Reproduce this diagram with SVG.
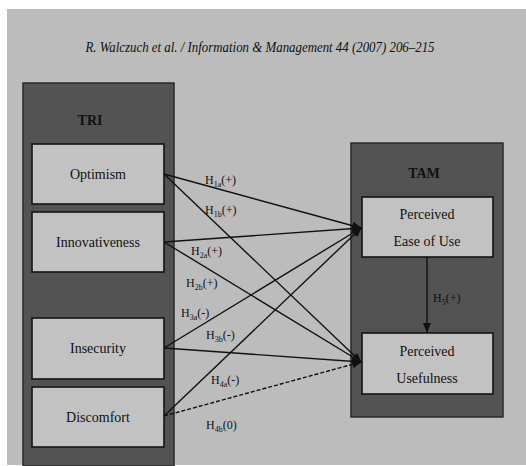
<svg xmlns="http://www.w3.org/2000/svg" width="526" height="466" viewBox="0 0 526 466">
<style>
text{font-family:"Liberation Serif","Times New Roman",Times,"DejaVu Serif",serif;fill:#111}
.panel{fill:#535353;stroke:#2a2a2a;stroke-width:1.5}
.box{fill:#c2c2c2;stroke:#141414;stroke-width:1.6}
.lbl{font-size:14px;text-anchor:middle}
.hd{font-size:14px;font-weight:bold;text-anchor:middle}
.h{font-size:12px}
.sub{font-size:8px}
.ln{stroke:#111;stroke-width:1.4;fill:none}
</style>
<defs>
<marker id="ah" markerWidth="10" markerHeight="8" refX="9" refY="4" orient="auto" markerUnits="userSpaceOnUse">
<path d="M0,0 L10,4 L0,8 z" fill="#111"/>
</marker>
</defs>
<rect x="0" y="0" width="526" height="466" fill="#ffffff"/>
<rect x="7" y="9" width="519" height="456" fill="#bcbcbc"/>
<text x="260" y="52" font-style="italic" font-size="15" text-anchor="middle" textLength="349" lengthAdjust="spacingAndGlyphs">R. Walczuch et al. / Information &amp; Management 44 (2007) 206–215</text>
<g id="TRI">
<rect class="panel" x="23" y="83" width="151" height="383"/>
<text class="hd" x="90" y="125">TRI</text>
</g>
<g id="optimism"><rect class="box" x="32" y="144" width="132" height="60"/><text class="lbl" x="98" y="179">Optimism</text></g>
<g id="innovativeness"><rect class="box" x="32" y="212" width="132" height="60"/><text class="lbl" x="98" y="247">Innovativeness</text></g>
<g id="insecurity"><rect class="box" x="32" y="318" width="132" height="61"/><text class="lbl" x="98" y="353">Insecurity</text></g>
<g id="discomfort"><rect class="box" x="32" y="387" width="132" height="60"/><text class="lbl" x="98" y="422">Discomfort</text></g>
<g id="TAM">
<rect class="panel" x="351" y="143" width="152" height="274"/>
<text class="hd" x="424" y="178">TAM</text>
</g>
<g id="peou"><rect class="box" x="362" y="197" width="131" height="60"/><text class="lbl" x="427" y="219">Perceived</text><text class="lbl" x="427" y="246">Ease of Use</text></g>
<g id="pu"><rect class="box" x="362" y="333" width="131" height="61"/><text class="lbl" x="427" y="356">Perceived</text><text class="lbl" x="427" y="383">Usefulness</text></g>
<g id="connectors">
<line class="ln" x1="164" y1="174" x2="361" y2="228" marker-end="url(#ah)"/>
<line class="ln" x1="164" y1="174" x2="361" y2="362" marker-end="url(#ah)"/>
<line class="ln" x1="164" y1="242" x2="361" y2="228" marker-end="url(#ah)"/>
<line class="ln" x1="164" y1="242" x2="361" y2="362" marker-end="url(#ah)"/>
<line class="ln" x1="164" y1="348" x2="361" y2="228" marker-end="url(#ah)"/>
<line class="ln" x1="164" y1="348" x2="361" y2="362" marker-end="url(#ah)"/>
<line class="ln" x1="164" y1="416" x2="361" y2="228" marker-end="url(#ah)"/>
<line class="ln" x1="164" y1="416" x2="361" y2="362" stroke-dasharray="4,2" marker-end="url(#ah)"/>
<line class="ln" x1="427" y1="257" x2="427" y2="332" marker-end="url(#ah)"/>
<text class="h" x="205" y="184">H<tspan class="sub" dy="3">1a</tspan><tspan dy="-3">(+)</tspan></text>
<text class="h" x="205" y="214">H<tspan class="sub" dy="3">1b</tspan><tspan dy="-3">(+)</tspan></text>
<text class="h" x="191" y="255">H<tspan class="sub" dy="3">2a</tspan><tspan dy="-3">(+)</tspan></text>
<text class="h" x="186" y="287">H<tspan class="sub" dy="3">2b</tspan><tspan dy="-3">(+)</tspan></text>
<text class="h" x="181" y="317">H<tspan class="sub" dy="3">3a</tspan><tspan dy="-3">(-)</tspan></text>
<text class="h" x="206" y="339">H<tspan class="sub" dy="3">3b</tspan><tspan dy="-3">(-)</tspan></text>
<text class="h" x="211" y="384">H<tspan class="sub" dy="3">4a</tspan><tspan dy="-3">(-)</tspan></text>
<text class="h" x="206" y="429">H<tspan class="sub" dy="3">4b</tspan><tspan dy="-3">(0)</tspan></text>
<text class="h" x="433" y="302">H<tspan class="sub" dy="3">5</tspan><tspan dy="-3">(+)</tspan></text>
</g>
</svg>
